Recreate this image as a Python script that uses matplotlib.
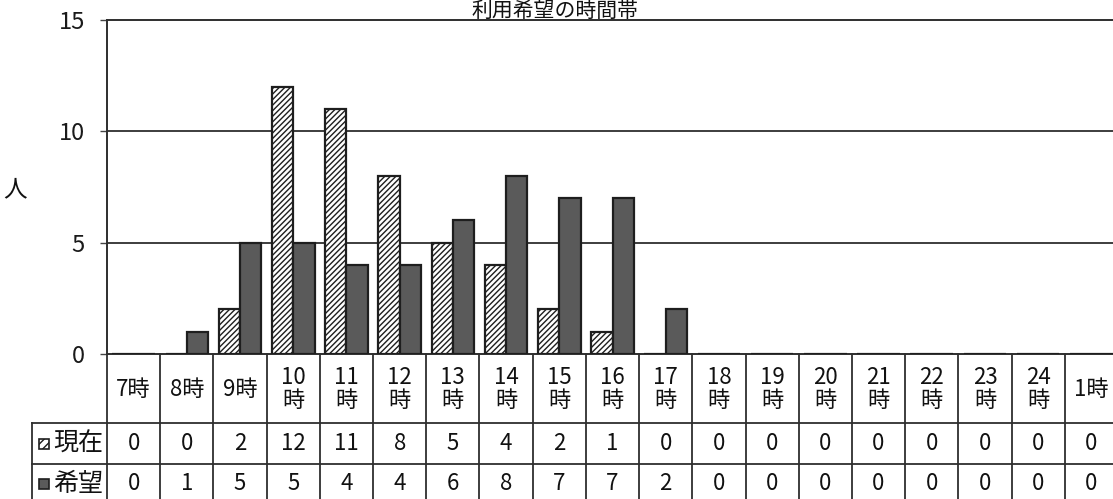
import matplotlib
matplotlib.use("Agg")
import matplotlib.pyplot as plt
from matplotlib.patches import Rectangle
import numpy as np

plt.rcParams['font.family'] = ['Noto Sans CJK JP', 'DejaVu Sans']
plt.rcParams['hatch.linewidth'] = 1.0

# ---- data ----
title = "利用希望の時間帯"
ylabel = "人"
header_labels = ['7時', '8時', '9時', '10\n時', '11\n時', '12\n時', '13\n時', '14\n時',
                 '15\n時', '16\n時', '17\n時', '18\n時', '19\n時', '20\n時', '21\n時',
                 '22\n時', '23\n時', '24\n時', '1時']
series_names = ['現在', '希望']
current = [0, 0, 2, 12, 11, 8, 5, 4, 2, 1, 0, 0, 0, 0, 0, 0, 0, 0, 0]
desired = [0, 1, 5, 5, 4, 4, 6, 8, 7, 7, 2, 0, 0, 0, 0, 0, 0, 0, 0]
yticks = [0, 5, 10, 15]

W, H = 1113, 499
fig = plt.figure(figsize=(W / 100, H / 100), dpi=100)
fig.patch.set_facecolor('white')

# axes in pixel geometry
L, R, T, B = 107, 1118, 20, 354
ax = fig.add_axes([L / W, (H - B) / H, (R - L) / W, (B - T) / H])

n = len(header_labels)
x = np.arange(n)
bw = 0.40
edge = '#1e1e1e'
ax.bar(x - bw / 2, current, width=bw, facecolor='white', edgecolor=edge,
       hatch='//////', linewidth=1.6, zorder=3)
ax.bar(x + bw / 2, desired, width=bw, facecolor='#5a5a5a', edgecolor=edge,
       linewidth=1.6, zorder=3)

ax.set_xlim(-0.5, n - 0.5)
ax.set_ylim(0, 15)
ax.set_yticks(yticks)
ax.set_yticklabels([str(v) for v in yticks], fontsize=17, color='#1a1a1a')
ax.tick_params(axis='y', length=5, width=1, color='#444444', pad=11)
ax.set_xticks([])
for yv in [5, 10]:
    ax.axhline(yv, color='#2e2e2e', linewidth=1.3, zorder=1)
for s in ['left', 'top', 'bottom']:
    ax.spines[s].set_color('#2e2e2e')
    ax.spines[s].set_linewidth(1.4)
ax.spines['right'].set_visible(False)

# title and y label
fig.text(555 / W, 1.0, title, ha='center', va='top', fontsize=15, color='#111111')
fig.text(15 / W, 1 - 190 / H, ylabel, ha='center', va='center', fontsize=17, color='#111111')

# ---- data table below the axes ----
def ay(ypix):
    return (B - ypix) / (B - T)

def axx(xpix):
    return (xpix - L) / (R - L)

xt = ax.get_xaxis_transform()
lc = '#2e2e2e'
lw = 1.3
y_hdr_bot = ay(423)
y_row1_bot = ay(464)
y_row2_bot = ay(506)

# vertical separators
for b in np.arange(n + 1) - 0.5:
    ax.plot([b, b], [0, y_row2_bot], transform=xt, color=lc, lw=lw, clip_on=False)
# horizontal lines
for yy in [y_hdr_bot, y_row1_bot, y_row2_bot]:
    ax.plot([axx(32), 1.0], [yy, yy], transform=ax.transAxes, color=lc, lw=lw, clip_on=False)
ax.plot([axx(32), axx(32)], [y_hdr_bot, y_row2_bot], transform=ax.transAxes,
        color=lc, lw=lw, clip_on=False)

# header labels
y_hdr = ay(389)
for i, lab in enumerate(header_labels):
    ax.text(i, y_hdr, lab, transform=xt, ha='center', va='center', fontsize=16,
            linespacing=1.05, color='#111111', clip_on=False)

# row labels with legend keys
rows = [current, desired]
row_centers = [ay(443.5), ay(484)]
key_styles = [dict(facecolor='white', hatch='////'), dict(facecolor='#5a5a5a')]
for name, vals, yc, ks in zip(series_names, rows, row_centers, key_styles):
    kh = 10 / (B - T)
    kw = 10 / (R - L)
    ax.add_patch(Rectangle((axx(39), yc - kh / 2), kw, kh, transform=ax.transAxes,
                           edgecolor=edge, linewidth=1.2, clip_on=False, **ks))
    ax.text(axx(53), yc, name, transform=ax.transAxes, ha='left', va='center',
            fontsize=18, color='#111111', clip_on=False)
    for i, v in enumerate(vals):
        ax.text(i, yc, str(v), transform=xt, ha='center', va='center', fontsize=16,
                color='#111111', clip_on=False)

fig.savefig('out.png', dpi=100, facecolor='white')
